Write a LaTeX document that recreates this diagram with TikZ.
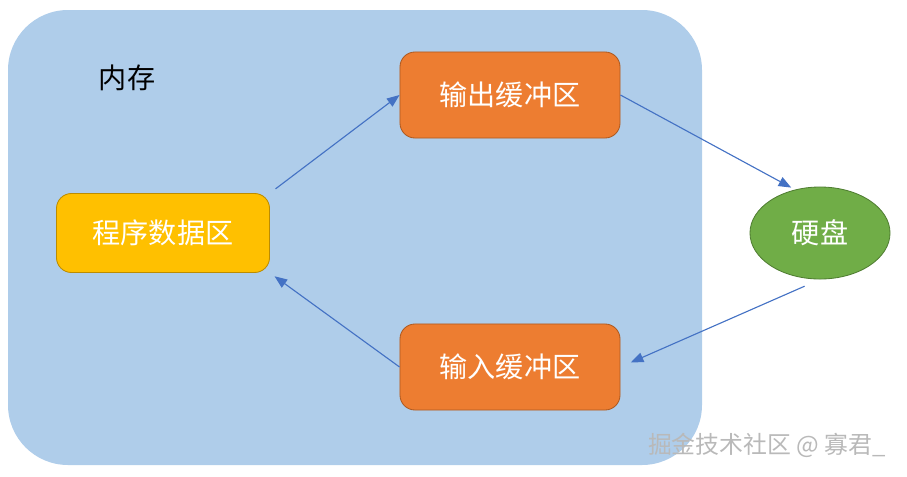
\documentclass[tikz,border=0pt]{standalone}
\usepackage{fontspec}
\setmainfont{Noto Sans CJK SC}
\usetikzlibrary{arrows.meta,shapes.geometric}
\definecolor{membg}{RGB}{175,205,234}
\definecolor{bufor}{RGB}{237,125,49}
\definecolor{bufordk}{RGB}{174,90,33}
\definecolor{progyl}{RGB}{255,192,0}
\definecolor{progyldk}{RGB}{188,140,0}
\definecolor{diskgn}{RGB}{112,173,71}
\definecolor{diskgndk}{RGB}{80,126,50}
\definecolor{flowbl}{RGB}{68,114,196}
\tikzset{
  bufbox/.style={draw=bufordk, fill=bufor, rounded corners=0.375cm, line width=0.6pt,
    minimum width=5.5cm, minimum height=2.15cm, text=white, font=\fontsize{20}{24}\selectfont},
  flow/.style={draw=flowbl, line width=0.8pt, -{Triangle[length=9pt,width=7pt]}}
}
\begin{document}
\begin{tikzpicture}[x=0.025cm, y=-0.025cm]
\useasboundingbox (0,0) rectangle (907,476);
\fill[membg, rounded corners=1.5cm] (8,10) rectangle (702,465);
\node[font=\fontsize{20}{24}\selectfont] (mem) at (127,78) {内存};
\node[bufbox] (out) at (510,95) {输出缓冲区};
\node[bufbox] (in) at (510,367) {输入缓冲区};
\node[draw=progyldk, fill=progyl, rounded corners=0.375cm, line width=0.6pt,
  minimum width=5.325cm, minimum height=1.975cm, text=white,
  font=\fontsize{20}{24}\selectfont] (prog) at (163,233) {程序数据区};
\node[ellipse, draw=diskgndk, fill=diskgn, line width=0.6pt, inner sep=0pt,
  minimum width=3.5cm, minimum height=2.3cm, text=white,
  font=\fontsize{20}{24}\selectfont] (disk) at (820,233) {硬盘};
\node[text=gray!55, font=\fontsize{17}{20}\selectfont] (mark) at (767,445) {掘金技术社区 @ 寡君\_};
\draw[flow, shorten <=5pt] (prog.north east) -- (out.west);
\draw[flow, shorten >=3pt] (out.east) -- (disk.120);
\draw[flow, shorten <=12pt, shorten >=8pt] (disk.south) -- (in.east);
\draw[flow, shorten >=4pt] (in.west) -- (prog.south east);
\end{tikzpicture}
\end{document}
